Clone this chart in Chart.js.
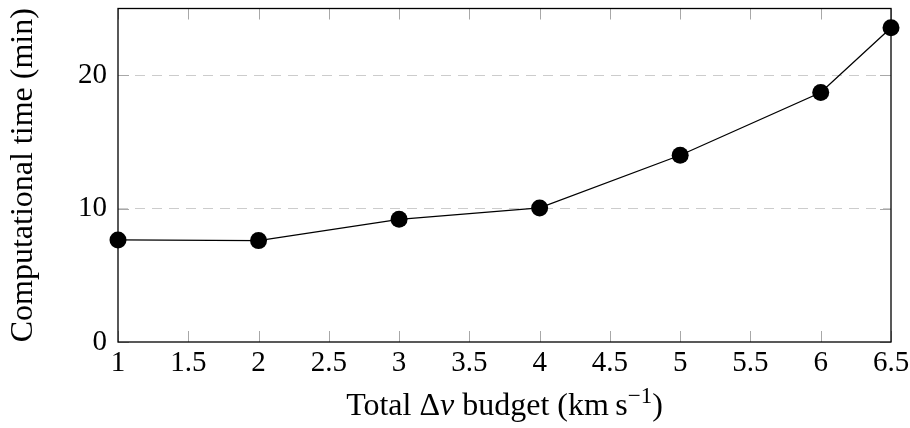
<!DOCTYPE html>
<html lang="en">
<head>
<meta charset="UTF-8">
<title>Computational time vs. Δv budget</title>
<script src="https://cdn.jsdelivr.net/npm/chart.js"></script>
<style>
  html, body { margin: 0; padding: 0; background: #fff; }
  #wrap { width: 910px; height: 428px; }
</style>
</head>
<body>
<div id="wrap"><canvas id="time-chart" width="910" height="428"></canvas></div>
<script>
  // total delta-v budget (km/s) and the solver run time for each (minutes)
  const budgets = [1, 2, 3, 4, 5, 6, 6.5];
  const runMinutes = [7.65, 7.6, 9.2, 10.05, 14.0, 18.7, 23.55];

  // axis ranges and tick steps
  const xRange = [1, 6.5];
  const xStep = 0.5;
  const yRange = [0, 25];
  const yStep = 10;
  const yDashedAt = [10, 20];

  const FONT = "'Liberation Serif', 'DejaVu Serif', serif";
  const TICK_LEN = 11;

  function line(ctx, x1, y1, x2, y2) {
    ctx.beginPath();
    ctx.moveTo(x1, y1);
    ctx.lineTo(x2, y2);
    ctx.stroke();
  }

  // black box round the plot plus grey inward ticks on all four sides
  const frameAndTicks = {
    id: 'frameAndTicks',
    beforeDatasetsDraw(chart) {
      const { ctx, chartArea: a, scales: { x, y } } = chart;
      ctx.save();
      ctx.strokeStyle = '#a8a8a8';
      ctx.lineWidth = 1;
      x.ticks.forEach(t => {
        const px = Math.round(x.getPixelForValue(t.value)) + 0.5;
        line(ctx, px, a.bottom, px, a.bottom - TICK_LEN);
        line(ctx, px, a.top, px, a.top + TICK_LEN);
      });
      y.ticks.forEach(t => {
        const py = Math.round(y.getPixelForValue(t.value)) + 0.5;
        line(ctx, a.left, py, a.left + TICK_LEN, py);
        line(ctx, a.right, py, a.right - TICK_LEN, py);
      });
      ctx.strokeStyle = '#000';
      ctx.lineWidth = 1.3;
      ctx.strokeRect(a.left, a.top, a.right - a.left, a.bottom - a.top);
      ctx.restore();
    }
  };

  // axis titles; the x title needs an italic v and a superscript
  const axisTitles = {
    id: 'axisTitles',
    afterDraw(chart) {
      const { ctx, chartArea: a } = chart;
      ctx.save();
      ctx.fillStyle = '#000';
      ctx.textBaseline = 'alphabetic';

      // y title, rotated
      ctx.save();
      ctx.translate(a.left - 86, (a.top + a.bottom) / 2);
      ctx.rotate(-Math.PI / 2);
      ctx.textAlign = 'center';
      ctx.font = '32px ' + FONT;
      ctx.fillText('Computational time (min)', 0, 0);
      ctx.restore();

      // x title, drawn piece by piece
      const parts = [
        { text: 'Total \u0394', font: '32px ' + FONT, rise: 0 },
        { text: 'v', font: 'italic 32px ' + FONT, rise: 0 },
        { text: ' budget (km\u2009s', font: '32px ' + FONT, rise: 0 },
        { text: '\u22121', font: '23px ' + FONT, rise: 12 },
        { text: ')', font: '32px ' + FONT, rise: 0 }
      ];
      ctx.textAlign = 'left';
      let total = 0;
      parts.forEach(p => { ctx.font = p.font; p.w = ctx.measureText(p.text).width; total += p.w; });
      let cx = (a.left + a.right) / 2 - total / 2;
      const base = a.bottom + 73;
      parts.forEach(p => {
        ctx.font = p.font;
        ctx.fillText(p.text, cx, base - p.rise);
        cx += p.w;
      });
      ctx.restore();
    }
  };

  const points = budgets.map((b, i) => ({ x: b, y: runMinutes[i] }));

  new Chart(document.getElementById('time-chart'), {
    type: 'line',
    data: {
      datasets: [{
        data: points,
        borderColor: '#000',
        borderWidth: 1.3,
        backgroundColor: '#000',
        pointBackgroundColor: '#000',
        pointBorderWidth: 0,
        pointRadius: 8.5,
        tension: 0,
        clip: false
      }]
    },
    options: {
      responsive: false,
      animation: false,
      devicePixelRatio: 1,
      layout: { padding: { left: 0, right: 19, top: 8, bottom: 0 } },
      plugins: {
        legend: { display: false },
        tooltip: { enabled: false }
      },
      scales: {
        x: {
          type: 'linear',
          min: xRange[0],
          max: xRange[1],
          grid: { display: false, drawTicks: false },
          border: { display: false },
          ticks: {
            stepSize: xStep,
            padding: 4,
            color: '#000',
            font: { family: FONT, size: 29 },
            maxRotation: 0,
            autoSkip: false,
            callback: v => String(+v.toFixed(2))
          },
          afterFit(scale) {
            scale.height = 86;
            scale.paddingLeft = 0;
            scale.paddingRight = 0;
          }
        },
        y: {
          min: yRange[0],
          max: yRange[1],
          grid: {
            drawTicks: false,
            lineWidth: 1,
            color: ctx => yDashedAt.includes(ctx.tick.value) ? '#cccccc' : 'rgba(0,0,0,0)'
          },
          border: { display: false, dash: [10, 7] },
          ticks: {
            stepSize: yStep,
            includeBounds: false,
            padding: 11,
            color: '#000',
            font: { family: FONT, size: 29 }
          },
          afterFit(scale) {
            scale.width = 118;
            scale.paddingTop = 0;
            scale.paddingBottom = 0;
          }
        }
      }
    },
    plugins: [frameAndTicks, axisTitles]
  });
</script>
</body>
</html>
